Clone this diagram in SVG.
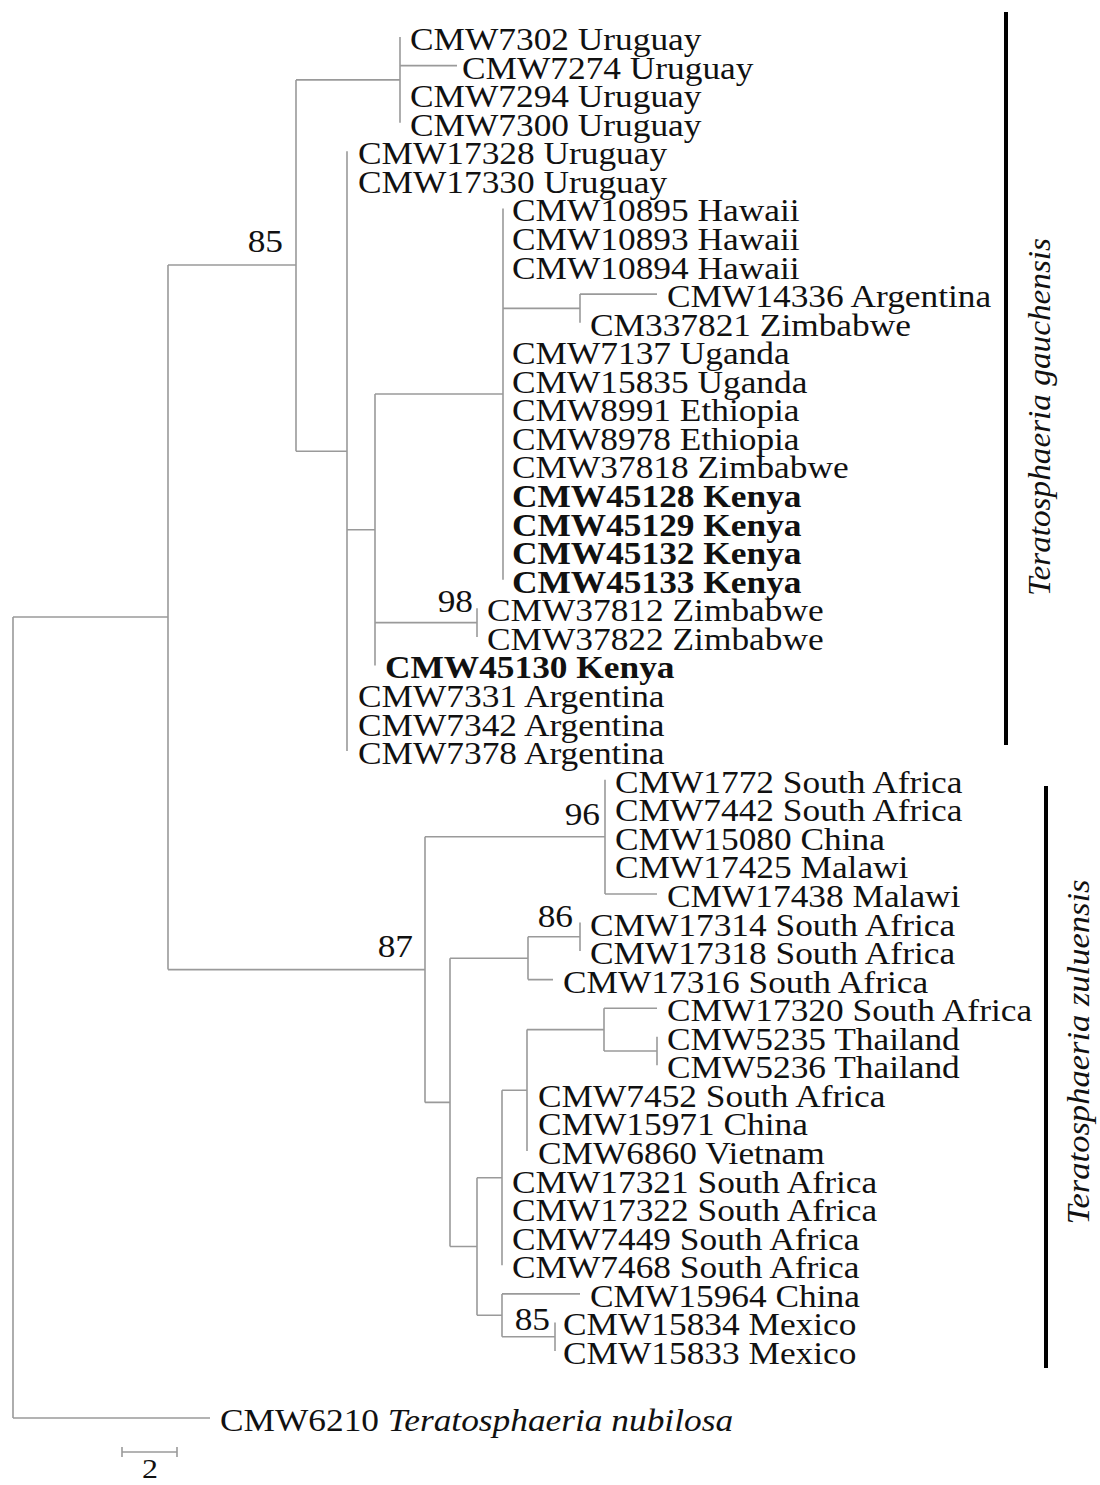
<svg xmlns="http://www.w3.org/2000/svg" width="1100" height="1485" viewBox="0 0 1100 1485">
<style>
text{font-family:"Liberation Serif","Times New Roman",serif;font-size:31px;fill:#111}
.b{font-weight:bold}
.i{font-style:italic}
.br{fill:none;stroke:#9a9a9a;stroke-width:1.6}
.bar{stroke:#000;stroke-width:4}
</style>
<rect width="1100" height="1485" fill="#fff"/>
<g id="connectors" class="br">
<path d="M13,617 V1418 M13,617 H168 M13,1418 H210"/>
<path d="M168,265 V969.6 M168,265 H296 M168,969.6 H425"/>
<path d="M296,79.9 V451.2 M296,79.9 H400 M296,451.2 H347"/>
<path d="M400,37 V122.7 M400,65.6 H457"/>
<path d="M347,151.3 V751.1 M347,529.7 H375"/>
<path d="M375,394 V665.4 M375,394 H503 M375,622.6 H477"/>
<path d="M503,208.4 V579.7 M503,308.4 H580"/>
<path d="M580,294.1 V322.7 M580,294.1 H657"/>
<path d="M477,608.3 V636.9"/>
<path d="M425,836.8 V1102.4 M425,836.8 H605 M425,1102.4 H450"/>
<path d="M605,779.7 V894 M605,894 H657"/>
<path d="M450,958.2 V1246.5 M450,958.2 H528 M450,1246.5 H477"/>
<path d="M528,936.8 V979.6 M528,936.8 H580 M528,979.6 H553"/>
<path d="M580,922.5 V951.1"/>
<path d="M477,1177.8 V1315.3 M477,1177.8 H502 M477,1315.3 H502"/>
<path d="M502,1090.3 V1265.3 M502,1090.3 H527"/>
<path d="M527,1029.6 V1151 M527,1029.6 H604"/>
<path d="M604,1008.2 V1051 M604,1008.2 H657 M604,1051 H657"/>
<path d="M657,1036.8 V1065.3"/>
<path d="M502,1293.9 V1336.7 M502,1293.9 H580 M502,1336.7 H555"/>
<path d="M555,1322.4 V1351"/>
</g>
<g id="taxa">
<g id="t1"><text transform="translate(410,50) scale(1.14,1)">CMW7302 Uruguay</text></g>
<g id="t2"><text transform="translate(462,78.57) scale(1.14,1)">CMW7274 Uruguay</text></g>
<g id="t3"><text transform="translate(410,107.13) scale(1.14,1)">CMW7294 Uruguay</text></g>
<g id="t4"><text transform="translate(410,135.7) scale(1.14,1)">CMW7300 Uruguay</text></g>
<g id="t5"><text transform="translate(358,164.26) scale(1.14,1)">CMW17328 Uruguay</text></g>
<g id="t6"><text transform="translate(358,192.83) scale(1.14,1)">CMW17330 Uruguay</text></g>
<g id="t7"><text transform="translate(512,221.39) scale(1.14,1)">CMW10895 Hawaii</text></g>
<g id="t8"><text transform="translate(512,249.96) scale(1.14,1)">CMW10893 Hawaii</text></g>
<g id="t9"><text transform="translate(512,278.52) scale(1.14,1)">CMW10894 Hawaii</text></g>
<g id="t10"><text transform="translate(667,307.09) scale(1.14,1)">CMW14336 Argentina</text></g>
<g id="t11"><text transform="translate(590,335.65) scale(1.14,1)">CM337821 Zimbabwe</text></g>
<g id="t12"><text transform="translate(512,364.22) scale(1.14,1)">CMW7137 Uganda</text></g>
<g id="t13"><text transform="translate(512,392.78) scale(1.14,1)">CMW15835 Uganda</text></g>
<g id="t14"><text transform="translate(512,421.35) scale(1.14,1)">CMW8991 Ethiopia</text></g>
<g id="t15"><text transform="translate(512,449.91) scale(1.14,1)">CMW8978 Ethiopia</text></g>
<g id="t16"><text transform="translate(512,478.48) scale(1.14,1)">CMW37818 Zimbabwe</text></g>
<g id="t17"><text class="b" transform="translate(512,507.04) scale(1.14,1)">CMW45128 Kenya</text></g>
<g id="t18"><text class="b" transform="translate(512,535.61) scale(1.14,1)">CMW45129 Kenya</text></g>
<g id="t19"><text class="b" transform="translate(512,564.17) scale(1.14,1)">CMW45132 Kenya</text></g>
<g id="t20"><text class="b" transform="translate(512,592.74) scale(1.14,1)">CMW45133 Kenya</text></g>
<g id="t21"><text transform="translate(487,621.3) scale(1.14,1)">CMW37812 Zimbabwe</text></g>
<g id="t22"><text transform="translate(487,649.87) scale(1.14,1)">CMW37822 Zimbabwe</text></g>
<g id="t23"><text class="b" transform="translate(385,678.43) scale(1.14,1)">CMW45130 Kenya</text></g>
<g id="t24"><text transform="translate(358,707) scale(1.14,1)">CMW7331 Argentina</text></g>
<g id="t25"><text transform="translate(358,735.56) scale(1.14,1)">CMW7342 Argentina</text></g>
<g id="t26"><text transform="translate(358,764.13) scale(1.14,1)">CMW7378 Argentina</text></g>
<g id="t27"><text transform="translate(615,792.69) scale(1.14,1)">CMW1772 South Africa</text></g>
<g id="t28"><text transform="translate(615,821.26) scale(1.14,1)">CMW7442 South Africa</text></g>
<g id="t29"><text transform="translate(615,849.82) scale(1.14,1)">CMW15080 China</text></g>
<g id="t30"><text transform="translate(615,878.39) scale(1.14,1)">CMW17425 Malawi</text></g>
<g id="t31"><text transform="translate(667,906.95) scale(1.14,1)">CMW17438 Malawi</text></g>
<g id="t32"><text transform="translate(590,935.52) scale(1.14,1)">CMW17314 South Africa</text></g>
<g id="t33"><text transform="translate(590,964.08) scale(1.14,1)">CMW17318 South Africa</text></g>
<g id="t34"><text transform="translate(563,992.65) scale(1.14,1)">CMW17316 South Africa</text></g>
<g id="t35"><text transform="translate(667,1021.21) scale(1.14,1)">CMW17320 South Africa</text></g>
<g id="t36"><text transform="translate(667,1049.78) scale(1.14,1)">CMW5235 Thailand</text></g>
<g id="t37"><text transform="translate(667,1078.34) scale(1.14,1)">CMW5236 Thailand</text></g>
<g id="t38"><text transform="translate(538,1106.91) scale(1.14,1)">CMW7452 South Africa</text></g>
<g id="t39"><text transform="translate(538,1135.47) scale(1.14,1)">CMW15971 China</text></g>
<g id="t40"><text transform="translate(538,1164.04) scale(1.14,1)">CMW6860 Vietnam</text></g>
<g id="t41"><text transform="translate(512,1192.6) scale(1.14,1)">CMW17321 South Africa</text></g>
<g id="t42"><text transform="translate(512,1221.17) scale(1.14,1)">CMW17322 South Africa</text></g>
<g id="t43"><text transform="translate(512,1249.73) scale(1.14,1)">CMW7449 South Africa</text></g>
<g id="t44"><text transform="translate(512,1278.3) scale(1.14,1)">CMW7468 South Africa</text></g>
<g id="t45"><text transform="translate(590,1306.86) scale(1.14,1)">CMW15964 China</text></g>
<g id="t46"><text transform="translate(563,1335.43) scale(1.14,1)">CMW15834 Mexico</text></g>
<g id="t47"><text transform="translate(563,1363.99) scale(1.14,1)">CMW15833 Mexico</text></g>
<g id="t48"><text transform="translate(220,1431) scale(1.14,1)">CMW6210 <tspan class="i">Teratosphaeria nubilosa</tspan></text></g>
</g>
<g id="support" text-anchor="end">
<text transform="translate(283,252) scale(1.14,1)">85</text>
<text transform="translate(473,612) scale(1.14,1)">98</text>
<text transform="translate(413,957) scale(1.14,1)">87</text>
<text transform="translate(600,825) scale(1.14,1)">96</text>
<text transform="translate(573,927) scale(1.14,1)">86</text>
<text transform="translate(550,1330) scale(1.14,1)">85</text>
</g>
<g id="clade-gauchensis">
<line class="bar" x1="1006" y1="12" x2="1006" y2="745"/>
<text class="i" text-anchor="middle" textLength="358" lengthAdjust="spacingAndGlyphs" transform="translate(1050,417) rotate(-90)">Teratosphaeria gauchensis</text>
</g>
<g id="clade-zuluensis">
<line class="bar" x1="1046" y1="786" x2="1046" y2="1368"/>
<text class="i" text-anchor="middle" textLength="345" lengthAdjust="spacingAndGlyphs" transform="translate(1089,1052) rotate(-90)">Teratosphaeria zuluensis</text>
</g>
<g id="scale-bar">
<path class="br" d="M122,1452 H177 M122,1447 V1457 M177,1447 V1457"/>
<text text-anchor="middle" style="font-size:28px" transform="translate(150,1478) scale(1.14,1)">2</text>
</g>
</svg>
